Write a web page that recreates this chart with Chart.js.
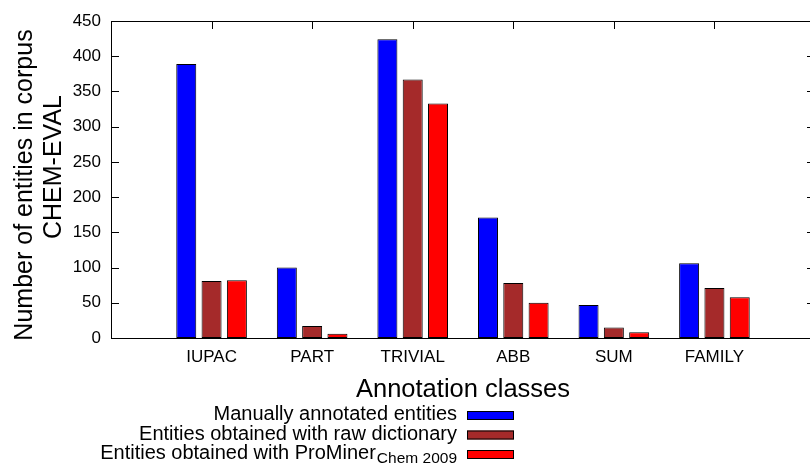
<!DOCTYPE html>
<html>
<head>
<meta charset="utf-8">
<script src="https://cdn.jsdelivr.net/npm/chart.js@4/dist/chart.umd.min.js"></script>
<style>
  html, body { margin: 0; padding: 0; background: #ffffff; overflow: hidden; }
  #wrap { width: 810px; height: 465px; overflow: hidden; position: relative; }
  canvas { display: block; }
</style>
</head>
<body>
<div id="wrap"><canvas id="chart" width="830" height="465"></canvas></div>
<script>
// Annotation classes and entity counts per source
const categories = ['IUPAC', 'PART', 'TRIVIAL', 'ABB', 'SUM', 'FAMILY'];
const manualCounts   = [389, 100, 424, 171, 47, 106];
const rawDictCounts  = [81, 17, 367, 78, 15, 71];
const prominerCounts = [82, 6, 333, 50, 8, 58];

const seriesNames = ['Manually annotated entities', 'Entities obtained with raw dictionary', 'Entities obtained with ProMiner'];
const seriesSubscripts = ['', '', 'Chem 2009'];
const seriesColors = ['#0000ff', '#a52a2a', '#ff0000'];

const yMin = 0;
const yMax = 450;
const yStep = 50;

const xTitle = 'Annotation classes';
const yTitleLines = ['Number of entities in corpus', 'CHEM-EVAL'];

const FONT = "'Liberation Sans', Arial, sans-serif";
const TICK_LEN = 8;

// an empty slot on each side keeps the groups one class-width away from the frame
const paddedLabels = ['', ...categories, ''];
const pad = arr => [null, ...arr, null];

const seriesValues = [manualCounts, rawDictCounts, prominerCounts];

const gnuplotLook = {
  id: 'gnuplotLook',
  beforeDatasetsDraw(chart) {
    const { ctx, chartArea: a, scales: { x, y } } = chart;
    ctx.save();
    ctx.strokeStyle = '#000000';
    ctx.lineWidth = 1;
    ctx.beginPath();
    y.ticks.forEach(t => {
      const py = Math.round(y.getPixelForValue(t.value)) + 0.5;
      ctx.moveTo(a.left, py); ctx.lineTo(a.left + TICK_LEN, py);
      ctx.moveTo(a.right, py); ctx.lineTo(a.right - TICK_LEN, py);
    });
    categories.forEach(c => {
      const px = Math.round(x.getPixelForValue(paddedLabels.indexOf(c))) + 0.5;
      ctx.moveTo(px, a.top); ctx.lineTo(px, a.top + TICK_LEN);
      ctx.moveTo(px, a.bottom); ctx.lineTo(px, a.bottom - TICK_LEN);
    });
    ctx.stroke();
    ctx.restore();
  },
  afterDatasetsDraw(chart) {
    const { ctx, chartArea: a } = chart;
    ctx.save();
    ctx.strokeStyle = '#000000';
    ctx.lineWidth = 1;
    ctx.strokeRect(Math.round(a.left) + 0.5, Math.round(a.top) + 0.5,
                   Math.round(a.right - a.left), Math.round(a.bottom - a.top));
    ctx.restore();
  },
  afterDraw(chart) {
    const { ctx, chartArea: a } = chart;
    ctx.save();
    ctx.fillStyle = '#000000';

    // x axis title
    ctx.font = '25.5px ' + FONT;
    ctx.textAlign = 'center';
    ctx.textBaseline = 'alphabetic';
    ctx.fillText(xTitle, (a.left + a.right) / 2, 397);

    // y axis title, two rotated lines
    ctx.font = '25px ' + FONT;
    const yTitlePos = [{ x: 32, y: 185 }, { x: 61, y: 167 }];
    yTitleLines.forEach((line, i) => {
      ctx.save();
      ctx.translate(yTitlePos[i].x, yTitlePos[i].y);
      ctx.rotate(-Math.PI / 2);
      ctx.textAlign = 'center';
      ctx.textBaseline = 'alphabetic';
      ctx.fillText(line, 0, 0);
      ctx.restore();
    });

    // key below the plot
    const textRight = 457;
    const swX = 467, swW = 47, swH = 9;
    const rowTop = [411, 430.5, 450];
    seriesNames.forEach((name, i) => {
      const base = rowTop[i] + swH;
      let right = textRight;
      ctx.textAlign = 'right';
      if (seriesSubscripts[i]) {
        ctx.font = '15.5px ' + FONT;
        ctx.fillText(seriesSubscripts[i], right, base + 4);
        right -= ctx.measureText(seriesSubscripts[i]).width + 1;
      }
      ctx.font = '20px ' + FONT;
      ctx.fillText(name, right, base);
      ctx.fillStyle = seriesColors[i];
      ctx.fillRect(swX, rowTop[i], swW, swH);
      ctx.strokeStyle = '#000000';
      ctx.lineWidth = 1;
      ctx.strokeRect(swX + 0.5, rowTop[i] + 0.5, swW - 1, swH - 1);
      ctx.fillStyle = '#000000';
    });
    ctx.restore();
  }
};

new Chart(document.getElementById('chart'), {
  type: 'bar',
  data: {
    labels: paddedLabels,
    datasets: seriesValues.map((vals, i) => ({
      label: seriesNames[i] + (seriesSubscripts[i] ? ' ' + seriesSubscripts[i] : ''),
      data: pad(vals),
      backgroundColor: seriesColors[i],
      borderColor: '#000000',
      borderWidth: 1,
      borderSkipped: false,
      categoryPercentage: 0.755,
      barPercentage: 0.79
    }))
  },
  options: {
    responsive: false,
    animation: false,
    devicePixelRatio: 1,
    layout: { padding: { left: 0, top: 21, right: 15, bottom: 0 } },
    plugins: {
      legend: { display: false },
      tooltip: { enabled: false },
      title: { display: false }
    },
    scales: {
      x: {
        type: 'category',
        offset: false,
        grid: { display: false, drawTicks: false },
        border: { display: false },
        ticks: {
          color: '#000000',
          font: { family: FONT, size: 17 },
          padding: 9,
          maxRotation: 0,
          autoSkip: false
        },
        afterFit(scale) { scale.height = 127; }
      },
      y: {
        min: yMin,
        max: yMax,
        grid: { display: false, drawTicks: false },
        border: { display: false },
        ticks: {
          stepSize: yStep,
          color: '#000000',
          font: { family: FONT, size: 17 },
          padding: 10
        },
        afterFit(scale) { scale.width = 111; }
      }
    }
  },
  plugins: [gnuplotLook]
});
</script>
</body>
</html>
